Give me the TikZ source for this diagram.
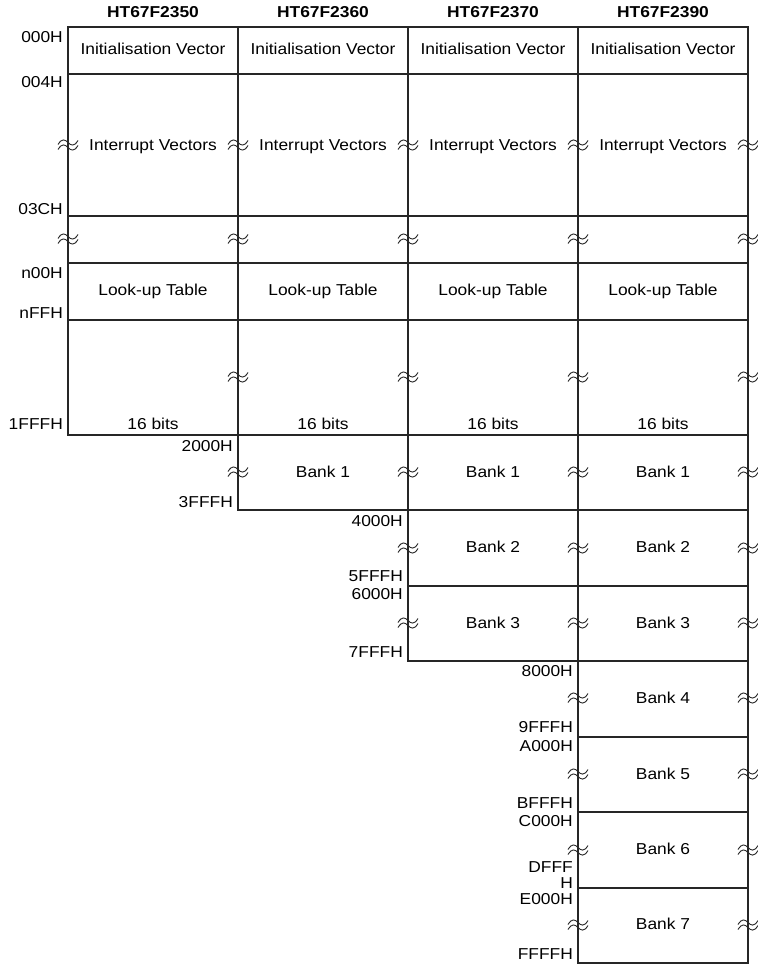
\documentclass[tikz,border=0pt]{standalone}
\usepackage{fontspec}
\setmainfont[FakeStretch=1.1]{Liberation Sans}
\begin{document}
\begin{tikzpicture}[x=1pt,y=-1pt,
  grid/.style={line width=1.3pt, draw=black!85, line join=miter},
  lab/.style={font=\fontsize{15.8}{18}\selectfont, inner sep=0pt, text height=11.3pt, text depth=0pt},
  addr/.style={lab, anchor=east},
  head/.style={lab, font=\bfseries\fontsize{15.8}{18}\selectfont},
  brk/.pic={\foreach \c in {-2.5,2.5}{
     \draw[line width=0.9pt, black!85] (-10,\c+2) .. controls (-6,\c-4.5) and (-3,\c-3) .. (0,\c) .. controls (3,\c+3) and (6,\c+4.5) .. (10,\c-2);}}
]
\useasboundingbox (0,0) rectangle (757,965);
% outline
\draw[grid] (68,27) -- (748,27) -- (748,963) -- (578,963) -- (578,661) -- (408,661) -- (408,510) -- (238,510) -- (238,435) -- (68,435) -- cycle;
% full-width rows
\foreach \y in {74,216,263,320,435}{\draw[grid] (68,\y) -- (748,\y);}
\draw[grid] (238,510) -- (748,510);
\foreach \y in {586,661}{\draw[grid] (408,\y) -- (748,\y);}
\foreach \y in {737,812,888}{\draw[grid] (578,\y) -- (748,\y);}
% column separators
\draw[grid] (238,27) -- (238,510);
\draw[grid] (408,27) -- (408,661);
\draw[grid] (578,27) -- (578,963);
% headers and common cells
\foreach \n/\cx in {2350/153,2360/323,2370/493,2390/663}{
  \node[head] (h\n) at (\cx,11.5) {HT67F\n};
  \node[lab] (iv\n) at (\cx,49) {Initialisation Vector};
  \node[lab] (int\n) at (\cx,144.5) {Interrupt Vectors};
  \node[lab] (lut\n) at (\cx,289.5) {Look-up Table};
  \node[lab] (bits\n) at (\cx,424) {16 bits};
}
% banks
\foreach \n/\cx in {2360/323,2370/493,2390/663}{\node[lab] (bA\n) at (\cx,471.5) {Bank 1};}
\foreach \n/\cx in {2370/493,2390/663}{
  \node[lab] (bB\n) at (\cx,547) {Bank 2};
  \node[lab] (bC\n) at (\cx,622.5) {Bank 3};}
\node[lab] (bD) at (663,698) {Bank 4};
\node[lab] (bE) at (663,773.5) {Bank 5};
\node[lab] (bF) at (663,849) {Bank 6};
\node[lab] (bG) at (663,924) {Bank 7};
% addresses
\node[addr] (a000) at (63,37) {000H};
\node[addr] (a004) at (63,82) {004H};
\node[addr] (a03C) at (63,208.5) {03CH};
\node[addr] (an00) at (63,273) {n00H};
\node[addr] (anFF) at (63,312.5) {nFFH};
\node[addr] (a1FFF) at (63,424) {1FFFH};
\node[addr] (a2000) at (233,446) {2000H};
\node[addr] (a3FFF) at (233,502) {3FFFH};
\node[addr] (a4000) at (403,521) {4000H};
\node[addr] (a5FFF) at (403,576) {5FFFH};
\node[addr] (a6000) at (403,594) {6000H};
\node[addr] (a7FFF) at (403,652) {7FFFH};
\node[addr] (a8000) at (573,671) {8000H};
\node[addr] (a9FFF) at (573,727) {9FFFH};
\node[addr] (aA000) at (573,746) {A000H};
\node[addr] (aBFFF) at (573,803) {BFFFH};
\node[addr] (aC000) at (573,821) {C000H};
\node[addr] (aDFFF) at (573,867) {DFFF};
\node[addr] (aDFFFh) at (573,882.5) {H};
\node[addr] (aE000) at (573,899) {E000H};
\node[addr] (aFFFF) at (573,954) {FFFFH};
% break marks
\foreach \y in {145,239}{\foreach \x in {68,238,408,578,748}{\pic at (\x,\y) {brk};}}
\foreach \y in {377,472}{\foreach \x in {238,408,578,748}{\pic at (\x,\y) {brk};}}
\foreach \y in {548,623}{\foreach \x in {408,578,748}{\pic at (\x,\y) {brk};}}
\foreach \y in {698,774,850,925}{\foreach \x in {578,748}{\pic at (\x,\y) {brk};}}
\end{tikzpicture}
\end{document}
